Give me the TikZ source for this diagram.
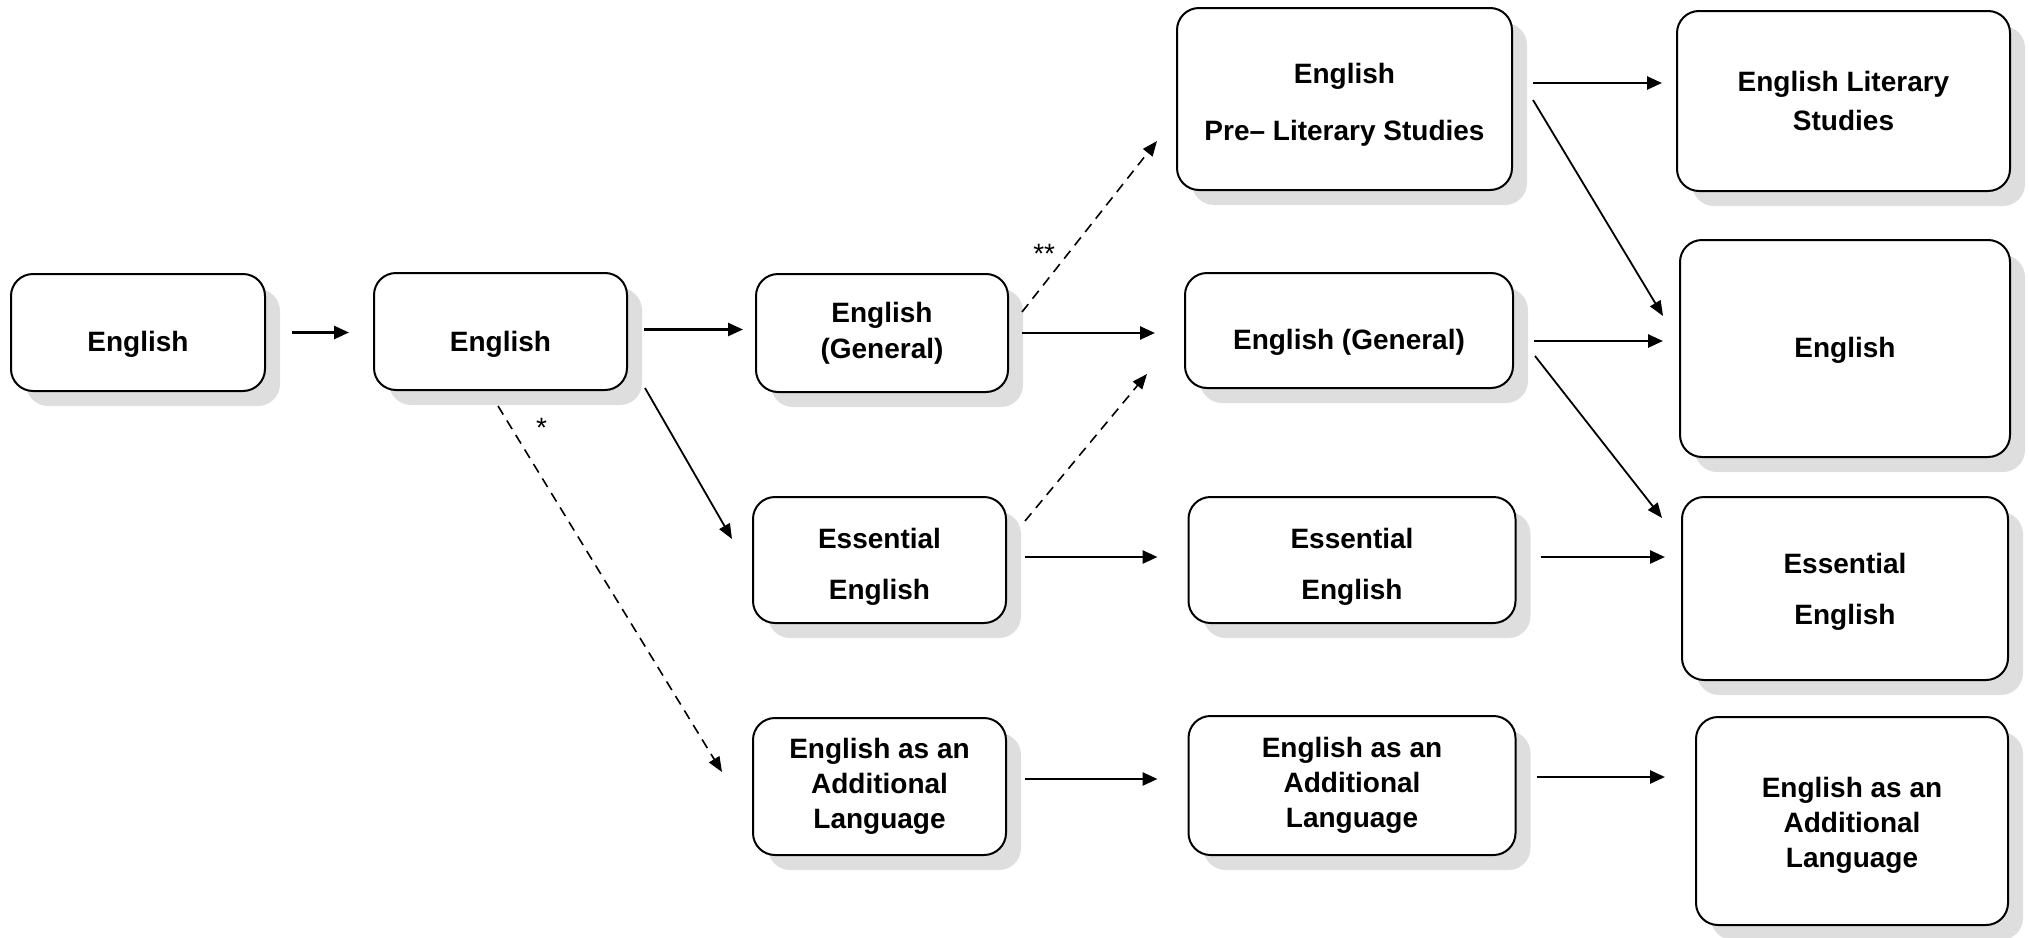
\documentclass[tikz,border=0pt]{standalone}
\usepackage{fontspec}
\setmainfont{Liberation Sans}
\usetikzlibrary{calc,shadows,arrows.meta}
\newcommand\tdn[1]{\rule{0pt}{#1}}
\begin{document}
\begin{tikzpicture}[x=0.5pt,y=-0.5pt,
  box/.style={draw, line width=1pt, rounded corners=11pt, fill=white, align=center,
    inner sep=0pt, font=\bfseries\fontsize{14pt}{17.5pt}\selectfont,
    general shadow={fill=black!13, shadow xshift=7.5pt, shadow yshift=-7.5pt}},
  arr/.style={line width=1.3pt, -{Triangle[length=7.5pt,width=6.5pt]}},
  darr/.style={line width=0.8pt, dash pattern=on 5pt off 3.5pt, -{Triangle[length=7.5pt,width=6pt]}},
  sarr/.style={line width=0.9pt, -{Triangle[length=7.5pt,width=6pt]}},
  lbl/.style={font=\fontsize{14pt}{16pt}\selectfont, inner sep=0pt}]
\useasboundingbox (0,0) rectangle (2029,937);
\node[box, minimum width=127pt, minimum height=58.5pt] (A) at (138,332.5) {\tdn{22pt}English};
\node[box, minimum width=126.5pt, minimum height=58.5pt] (B) at (500.5,331.5) {\tdn{23pt}English};
\node[box, minimum width=126pt, minimum height=59pt, font=\bfseries\fontsize{14pt}{18pt}\selectfont] (C) at (882,333) {English\\(General)};
\node[box, minimum width=126.5pt, minimum height=63pt, font=\bfseries\fontsize{14pt}{25.5pt}\selectfont] (D) at (879.5,560) {\tdn{17pt}Essential\\English};
\node[box, minimum width=126.5pt, minimum height=68.5pt] (E) at (879.5,786.5) {English as an\\Additional\\Language};
\node[box, minimum width=167.5pt, minimum height=91pt, font=\bfseries\fontsize{14pt}{28.5pt}\selectfont] (F) at (1344.5,99) {\tdn{16pt}English\\Pre– Literary Studies};
\node[box, minimum width=164pt, minimum height=57.5pt] (G) at (1349,330.5) {\tdn{22pt}English (General)};
\node[box, minimum width=163.5pt, minimum height=63pt, font=\bfseries\fontsize{14pt}{25.5pt}\selectfont] (H) at (1352,560) {\tdn{17pt}Essential\\English};
\node[box, minimum width=163.5pt, minimum height=69.5pt] (I) at (1352,785.5) {English as an\\Additional\\Language};
\node[box, minimum width=166.5pt, minimum height=90pt, font=\bfseries\fontsize{14pt}{19.5pt}\selectfont] (J) at (1843.5,101) {English Literary\\Studies};
\node[box, minimum width=165pt, minimum height=108.5pt] (K) at (1845,348.5) {\tdn{12pt}English};
\node[box, minimum width=163pt, minimum height=91.5pt, font=\bfseries\fontsize{14pt}{25.5pt}\selectfont] (L) at (1845,588.5) {\tdn{13pt}Essential\\English};
\node[box, minimum width=156pt, minimum height=104pt] (M) at (1852,821) {\tdn{14pt}English as an\\Additional\\Language};

\draw[arr] ($(A.east)+(26,0)$) -- ($(A.east -| B.west)+(-24,0)$);
\draw[arr] ($(B.east)+(16,-2)$) -- ($(B.east -| C.west)+(-12,-2)$);
\draw[sarr] ($(B.south east)+(17,-3)$) -- ($(D.north west)+(-20,43)$);
\draw[darr] ($(B.south)+(-2.5,15)$) -- ($(E.north west)+(-30,55)$)
  node[lbl, pos=0.06, right=12pt] (s1) {*};
\draw[darr] ($(C.north east)+(13,39)$) -- ($(F.south west)+(-19,-50)$)
  node[lbl, pos=0.34, left=6pt] (s2) {**};
\draw[arr] ($(C.east)+(13,0)$) -- ($(C.east -| G.west)+(-29,0)$);
\draw[darr] ($(D.north east)+(18,25)$) -- ($(G.south west)+(-37,-15)$);
\draw[arr] ($(D.east)+(18,-3)$) -- ($(D.east -| H.west)+(-30,-3)$);
\draw[arr] ($(E.east)+(18,-7.5)$) -- ($(E.east -| I.west)+(-30,-7.5)$);
\draw[arr] ($(F.east)+(20,-16)$) -- ($(F.east -| J.west)+(-14,-16)$);
\draw[sarr] ($(F.east)+(20,1)$) -- ($(K.north west)+(-16,77)$);
\draw[arr] ($(G.east)+(20,10.5)$) -- ($(G.east -| K.west)+(-16,10.5)$);
\draw[sarr] ($(G.east)+(21,25.5)$) -- ($(L.north west)+(-19,22)$);
\draw[arr] ($(H.east)+(24,-3)$) -- ($(H.east -| L.west)+(-16,-3)$);
\draw[arr] ($(I.east)+(20,-8.5)$) -- ($(I.east -| M.west)+(-30,-8.5)$);
\end{tikzpicture}
\end{document}
